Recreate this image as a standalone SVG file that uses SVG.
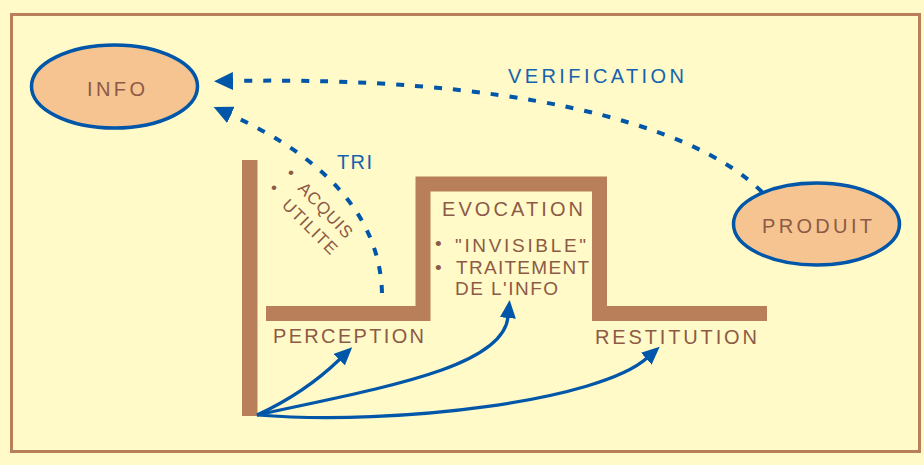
<svg xmlns="http://www.w3.org/2000/svg" width="924" height="465" viewBox="0 0 924 465">
  <defs>
    <style>
      .lbl { font-family: "Liberation Sans", Arial, sans-serif; font-size: 20px; fill: #8C5A46; }
      .sub { font-family: "Liberation Sans", Arial, sans-serif; font-size: 19px; fill: #8C5A46; }
      .small { font-family: "Liberation Sans", Arial, sans-serif; font-size: 17px; fill: #8C5A46; }
      .blue { font-family: "Liberation Sans", Arial, sans-serif; font-size: 20px; fill: #1563AE; }
      .node { fill: #F5C490; stroke: #0056A8; stroke-width: 3.5; }
      .bar { fill: none; stroke: #B97F5A; stroke-width: 15; stroke-linejoin: miter; stroke-linecap: butt; }
      .solid { fill: none; stroke: #0056A8; stroke-width: 3.2; }
      .dashed { fill: none; stroke: #0056A8; stroke-width: 4; stroke-dasharray: 8 11; }
    </style>
    <marker id="head" viewBox="0 0 18 16" refX="1" refY="8" markerWidth="18" markerHeight="16" markerUnits="userSpaceOnUse" orient="auto">
      <path d="M0,0 L18,8 L0,16 Z" fill="#0056A8"/>
    </marker>
    <marker id="headD" viewBox="0 0 19 18" refX="1" refY="9" markerWidth="19" markerHeight="18" markerUnits="userSpaceOnUse" orient="auto">
      <path d="M0,0 L19,9 L0,18 Z" fill="#0056A8"/>
    </marker>
  </defs>

  <!-- page background and frame -->
  <rect x="0" y="0" width="924" height="465" fill="#FFFAC8"/>
  <rect x="11.5" y="14.5" width="908" height="437" fill="none" stroke="#B97F5A" stroke-width="3"/>

  <!-- process profile: vertical start bar and stepped level line -->
  <g id="profile">
    <rect x="242" y="160" width="15.5" height="256" fill="#B97F5A"/>
    <polyline class="bar" points="266,313.5 423,313.5 423,184 599.5,184 599.5,313.5 767,313.5"/>
  </g>

  <!-- connectors -->
  <g id="connectors">
    <path class="dashed" d="M 762,192 C 690,120 500,76 232,81" marker-end="url(#headD)"/>
    <path class="dashed" d="M 382,293 C 380,220 330,160 230,114.5" marker-end="url(#headD)"/>
    <path class="solid" d="M 257,415 Q 305,393 340,359" marker-end="url(#head)"/>
    <path class="solid" d="M 257,415 C 380,388 503,368 508,317" marker-end="url(#head)"/>
    <path class="solid" d="M 257,415 C 400,426 600,400 647,358" marker-end="url(#head)"/>
  </g>

  <g id="info">
    <ellipse class="node" cx="114.5" cy="86.5" rx="83" ry="41.5"/>
    <text class="lbl" x="87" y="96" textLength="58" lengthAdjust="spacing">INFO</text>
  </g>

  <g id="produit">
    <ellipse class="node" cx="816.5" cy="224" rx="83" ry="41"/>
    <text class="lbl" x="762" y="233" textLength="110" lengthAdjust="spacing">PRODUIT</text>
  </g>

  <g id="verification-label">
    <text class="blue" x="508" y="83" textLength="176" lengthAdjust="spacing">VERIFICATION</text>
  </g>

  <g id="tri">
    <text class="blue" x="337" y="169" textLength="35" lengthAdjust="spacing">TRI</text>
    <text class="small" x="288" y="177.5">•</text>
    <text class="small" x="271" y="192.5">•</text>
    <text class="small" transform="translate(297,189) rotate(46)" x="0" y="0" textLength="70" lengthAdjust="spacing">ACQUIS</text>
    <text class="small" transform="translate(281,206) rotate(45)" x="0" y="0" textLength="70" lengthAdjust="spacing">UTILITE</text>
  </g>

  <g id="perception">
    <text class="lbl" x="273" y="343" textLength="151" lengthAdjust="spacing">PERCEPTION</text>
  </g>

  <g id="evocation">
    <text class="lbl" x="442" y="216" textLength="141" lengthAdjust="spacing">EVOCATION</text>
    <text class="sub" x="435" y="250">•</text>
    <text class="sub" x="455" y="252" textLength="131" lengthAdjust="spacing">"INVISIBLE"</text>
    <text class="sub" x="435" y="274">•</text>
    <text class="sub" x="456" y="274" textLength="133" lengthAdjust="spacing">TRAITEMENT</text>
    <text class="sub" x="455" y="295" textLength="103" lengthAdjust="spacing">DE L'INFO</text>
  </g>

  <g id="restitution">
    <text class="lbl" x="595" y="344" textLength="162" lengthAdjust="spacing">RESTITUTION</text>
  </g>
</svg>
